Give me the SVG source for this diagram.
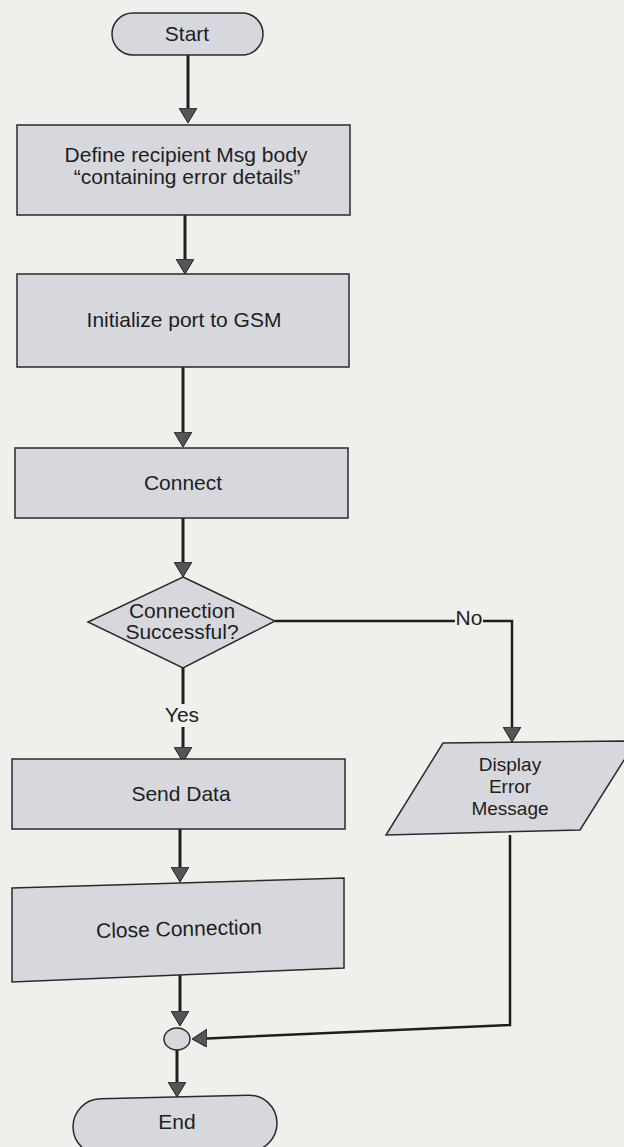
<svg xmlns="http://www.w3.org/2000/svg" width="624" height="1147" viewBox="0 0 624 1147">
<defs>
<style>
.bg{fill:#efefec}
.box{fill:#d6d8dd;stroke:#2a2a2a;stroke-width:1.5}
.lbl{font-family:"Liberation Sans",Arial,sans-serif;font-size:21px;fill:#1e1e1e;text-anchor:middle}
.sm{font-size:19px}
.edge{fill:none;stroke:#1e1e1e;stroke-width:3}
.thin{fill:none;stroke:#1e1e1e;stroke-width:2.5}
</style>
<marker id="arr" markerUnits="userSpaceOnUse" viewBox="0 0 15 18" markerWidth="15" markerHeight="18" refX="0" refY="9" orient="auto">
<path d="M0,0 L15,9 L0,18 Z" fill="#555" stroke="#222" stroke-width="1"/>
</marker>
</defs>
<rect class="bg" x="0" y="0" width="624" height="1147"/>

<g id="connectors">
<path class="edge" d="M188,55 V108" marker-end="url(#arr)"/>
<path class="edge" d="M185,215 V259" marker-end="url(#arr)"/>
<path class="edge" d="M183,367 V432" marker-end="url(#arr)"/>
<path class="edge" d="M183,518 V562" marker-end="url(#arr)"/>
<path class="edge" d="M183,668 V704"/>
<path class="edge" d="M183,727 V747" marker-end="url(#arr)"/>
<text class="lbl" x="182" y="722">Yes</text>
<path class="thin" d="M275,621 H455"/>
<text class="lbl" x="469" y="625">No</text>
<path class="thin" d="M483,621 H512 V727" marker-end="url(#arr)"/>
<path class="edge" d="M180,828 V867" marker-end="url(#arr)"/>
<path class="edge" d="M180,975 V1011" marker-end="url(#arr)"/>
<path class="thin" d="M510,835 V1025 L207,1038.4" marker-end="url(#arr)"/>
<path class="edge" d="M177,1050 V1082" marker-end="url(#arr)"/>
</g>

<g id="start">
<rect class="box" x="112" y="13" width="151" height="42" rx="21"/>
<text class="lbl" x="187" y="41">Start</text>
</g>

<g id="define">
<rect class="box" x="17" y="125" width="333" height="90"/>
<text class="lbl" x="186" y="162">Define recipient Msg body</text>
<text class="lbl" x="187" y="184">“containing error details”</text>
</g>

<g id="init">
<rect class="box" x="17" y="274" width="332" height="93"/>
<text class="lbl" x="184" y="327">Initialize port to GSM</text>
</g>

<g id="connect">
<rect class="box" x="15" y="448" width="333" height="70"/>
<text class="lbl" x="183" y="490">Connect</text>
</g>

<g id="decision">
<polygon class="box" points="183,577 275,621 183,668 88,622"/>
<text class="lbl" x="182" y="618">Connection</text>
<text class="lbl" x="182" y="639">Successful?</text>
</g>

<g id="send">
<rect class="box" x="12" y="759" width="333" height="70"/>
<text class="lbl" x="181" y="801">Send Data</text>
</g>

<g id="display">
<polygon class="box" points="443,743 636,741 580,830 386,835"/>
<text class="lbl sm" x="510" y="771">Display</text>
<text class="lbl sm" x="510" y="793">Error</text>
<text class="lbl sm" x="510" y="815">Message</text>
</g>

<g id="close">
<polygon class="box" points="12,888 344,878 344,968 12,982"/>
<text class="lbl" x="179" y="936" transform="rotate(-1.4 179 930)">Close Connection</text>
</g>

<g id="merge">
<ellipse class="box" cx="177" cy="1039" rx="13" ry="11"/>
</g>

<g id="end">
<rect class="box" x="73" y="1097" width="204" height="56" rx="28" transform="rotate(-1.4 175 1125)"/>
<text class="lbl" x="177" y="1129">End</text>
</g>
</svg>
